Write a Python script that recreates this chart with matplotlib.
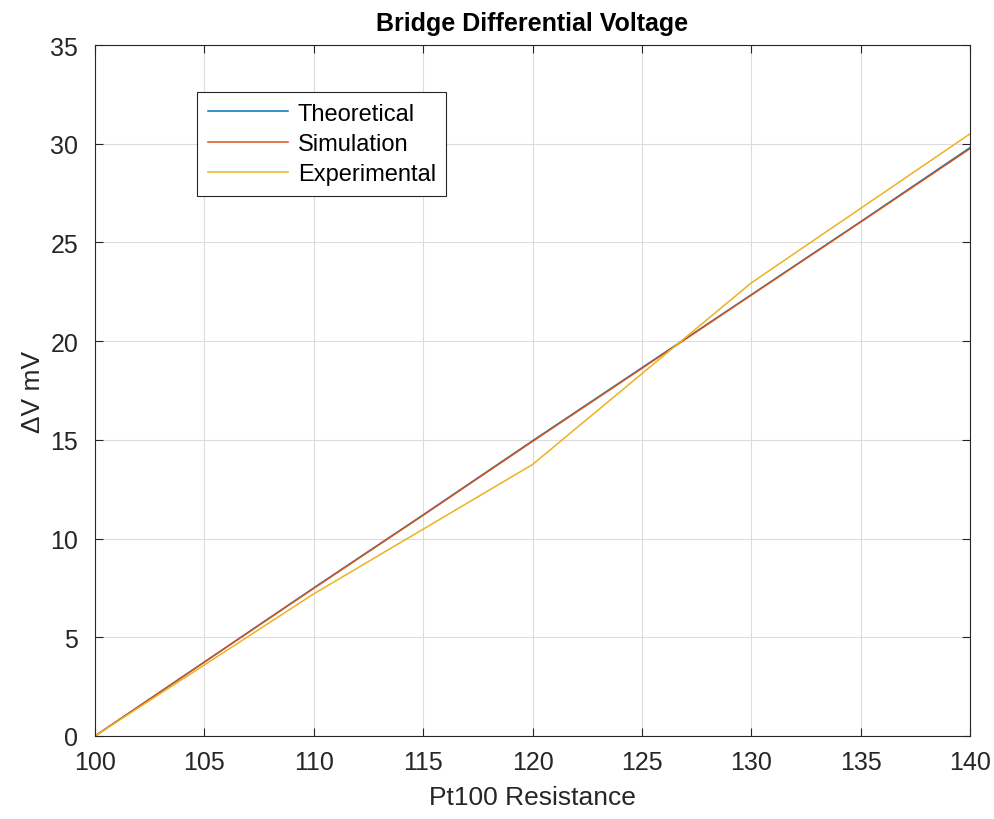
import numpy as np
import matplotlib
matplotlib.use("Agg")
import matplotlib.pyplot as plt

plt.rcParams['font.family'] = ['Liberation Sans', 'DejaVu Sans']

# data
r_theory = [100, 105, 110, 115, 120, 125, 130, 135, 140]
v_theory = [0, 3.75, 7.5, 11.2, 14.95, 18.65, 22.35, 26.05, 29.8]
r_sim = [100, 105, 110, 115, 120, 125, 130, 135, 140]
v_sim = [0, 3.74, 7.48, 11.18, 14.92, 18.62, 22.33, 26.03, 29.75]
r_exp = [100, 110, 120, 130, 140]
v_exp = [0, 7.2, 13.75, 22.95, 30.5]

x_ticks = [100, 105, 110, 115, 120, 125, 130, 135, 140]
y_ticks = [0, 5, 10, 15, 20, 25, 30, 35]

fig = plt.figure(figsize=(9.95, 8.2), dpi=100)
ax = fig.add_axes([95/995, 1-737/820, 875/995, 691/820])

ax.plot(r_theory, v_theory, color='#0072BD', lw=1.1, label='Theoretical')
ax.plot(r_sim, v_sim, color='#D95319', lw=1.1, label='Simulation')
ax.plot(r_exp, v_exp, color='#EDB120', lw=1.1, label='Experimental')

ax.set_xlim(100, 140)
ax.set_ylim(0, 35)
ax.set_xticks(x_ticks)
ax.set_yticks(y_ticks)
ax.grid(True, color='#dcdcdc', lw=0.8)
ax.set_axisbelow(True)
ax.tick_params(direction='in', top=True, right=True, labelsize=18, colors='#262626', length=6)
ax.tick_params(axis='x', pad=10)
ax.tick_params(axis='y', pad=12)
for s in ax.spines.values():
    s.set_color('#262626')
    s.set_linewidth(0.8)

ax.set_title('Bridge Differential Voltage', fontsize=18, fontweight='bold', pad=11)
ax.set_xlabel('Pt100 Resistance', fontsize=19, color='#262626', labelpad=8)
ax.set_ylabel('ΔV mV', fontsize=19, color='#262626', labelpad=4)

leg = ax.legend(loc='upper left', bbox_to_anchor=(0.117, 0.932), fontsize=17,
                fancybox=False, framealpha=1, edgecolor='#262626', handlelength=3.4,
                borderaxespad=0, labelspacing=0.35, handletextpad=0.4, borderpad=0.45)
leg.get_frame().set_linewidth(0.8)

fig.savefig('out.png', dpi=100)
